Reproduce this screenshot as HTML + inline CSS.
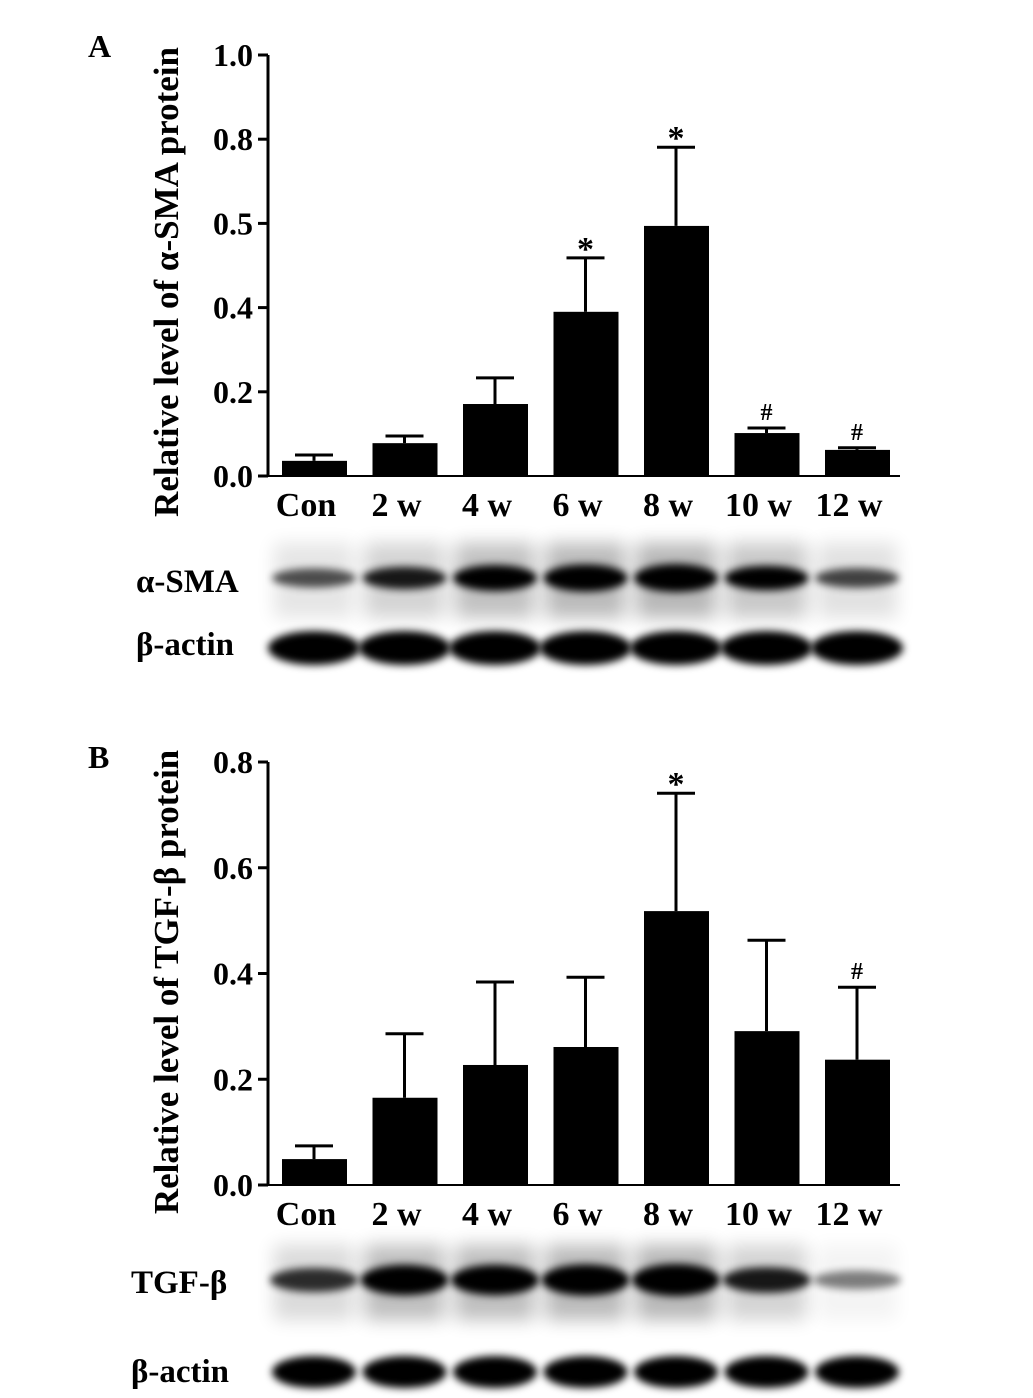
<!DOCTYPE html>
<html><head><meta charset="utf-8"><style>
body{margin:0;background:#fff;}
svg{display:block;font-family:"Liberation Serif",serif;font-weight:bold;}
</style></head><body>
<svg id="fig" width="1033" height="1398" viewBox="0 0 1033 1398">
<defs>
<filter id="blur" x="-20%" y="-100%" width="140%" height="300%"><feGaussianBlur stdDeviation="4"/></filter>
<filter id="blur2" x="-20%" y="-100%" width="140%" height="300%"><feGaussianBlur stdDeviation="9"/></filter>
</defs>
<text x="88" y="57" font-size="32">A</text>
<text x="88" y="768" font-size="32">B</text>
<text transform="translate(178,282) rotate(-90)" text-anchor="middle" font-size="35">Relative level of α-SMA protein</text>
<text transform="translate(178,982) rotate(-90)" text-anchor="middle" font-size="35">Relative level of TGF-β protein</text>
<g id="chartA"></g>
<g id="chartB"></g>
<g id="blots"></g>
<text x="136" y="592" font-size="33">α-SMA</text>
<text x="136" y="655" font-size="33">β-actin</text>
<text x="131" y="1293" font-size="33">TGF-β</text>
<text x="131" y="1382" font-size="33">β-actin</text>
</svg>
<script>
const categories=["Con","2 w","4 w","6 w","8 w","10 w","12 w"];
const valuesA=[0.036,0.078,0.171,0.39,0.594,0.102,0.062];
const errorsA=[0.014,0.017,0.062,0.128,0.187,0.012,0.005];
const marksA=["","","","*","*","#","#"];
const tickValsA=[0,0.2,0.4,0.6,0.8,1.0];
const tickLabelsA=["0.0","0.2","0.4","0.5","0.8","1.0"];
const valuesB=[0.049,0.165,0.227,0.261,0.518,0.291,0.237];
const errorsB=[0.025,0.121,0.157,0.132,0.223,0.172,0.137];
const marksB=["","","","","*","","#"];
const tickValsB=[0,0.2,0.4,0.6,0.8];
const tickLabelsB=["0.0","0.2","0.4","0.6","0.8"];
const bandA=[0.35,0.6,0.85,0.95,1.0,0.75,0.4];
const bandB=[0.5,0.9,0.9,0.95,1.0,0.6,0.15];
const NS="http://www.w3.org/2000/svg";
function mk(p,t,a){const e=document.createElementNS(NS,t);for(const k in a)e.setAttribute(k,a[k]);p.appendChild(e);return e;}
function draw(g,vals,errs,marks,tv,tl,y0,y1,vmax,pfx){
  const y=v=>y0-(v/vmax)*(y0-y1);
  const x=i=>314+i*90.5;
  const ax=mk(g,'line',{x1:268,y1:y1,x2:268,y2:y0+1,stroke:'#000','stroke-width':3});
  
  tv.forEach((v,i)=>{
    const t=mk(g,'line',{x1:258,y1:y(v),x2:268,y2:y(v),stroke:'#000','stroke-width':3});
    
    const l=mk(g,'text',{x:253,y:y(v)+11,'text-anchor':'end','font-size':32});l.textContent=tl[i];
    
  });
  vals.forEach((v,i)=>{
    const cx=x(i),top=y(v+errs[i]);
    const e=mk(g,'line',{x1:cx,y1:top,x2:cx,y2:y(v),stroke:'#000','stroke-width':3});
    
    const c=mk(g,'line',{x1:cx-19,y1:top,x2:cx+19,y2:top,stroke:'#000','stroke-width':3});
    
    const b=mk(g,'rect',{x:cx-32,y:y(v),width:65,height:y0-y(v),fill:'#000'});
    
    if(marks[i]){const m=mk(g,'text',{x:cx,y:top-(marks[i]=='*'?-2:8),'text-anchor':'middle','font-size':marks[i]=='*'?34:24});m.textContent=marks[i];
      }
    const l=mk(g,'text',{x:cx-8,y:y0+40,'text-anchor':'middle','font-size':34});l.textContent=categories[i];
    
  });
  const xa=mk(g,'line',{x1:268,y1:y0,x2:900,y2:y0,stroke:'#000','stroke-width':2});
  
}
draw(document.getElementById('chartA'),valuesA,errorsA,marksA,tickValsA,tickLabelsA,476,55,1.0,'a');
draw(document.getElementById('chartB'),valuesB,errorsB,marksB,tickValsB,tickLabelsB,1185,762,0.8,'b');
const bl=document.getElementById('blots');
function band(cy,inten,w,h,name,halo){
  inten.forEach((s,i)=>{
    const cx=314+i*90.5;
    if(halo){const hh=mk(bl,'rect',{x:cx-40,y:cy-35,width:80,height:75,fill:'#000',opacity:0.28*s,filter:'url(#blur2)'});
      }
    const e=mk(bl,'ellipse',{cx:cx,cy:cy,rx:w,ry:h*(0.5+0.5*s),fill:'#000',opacity:Math.min(1,0.35+0.9*s),filter:'url(#blur)'});
    
  });
}
band(578,bandA,42,14,'asma',true);
band(648,[1,1,1,1,1,1,1],46,17,'actin-a',false);
band(1280,bandB,44,16,'tgfb',true);
band(1372,[1,1,1,1,1,1,1],42,16,'actin-b',false);
</script>
</body></html>
